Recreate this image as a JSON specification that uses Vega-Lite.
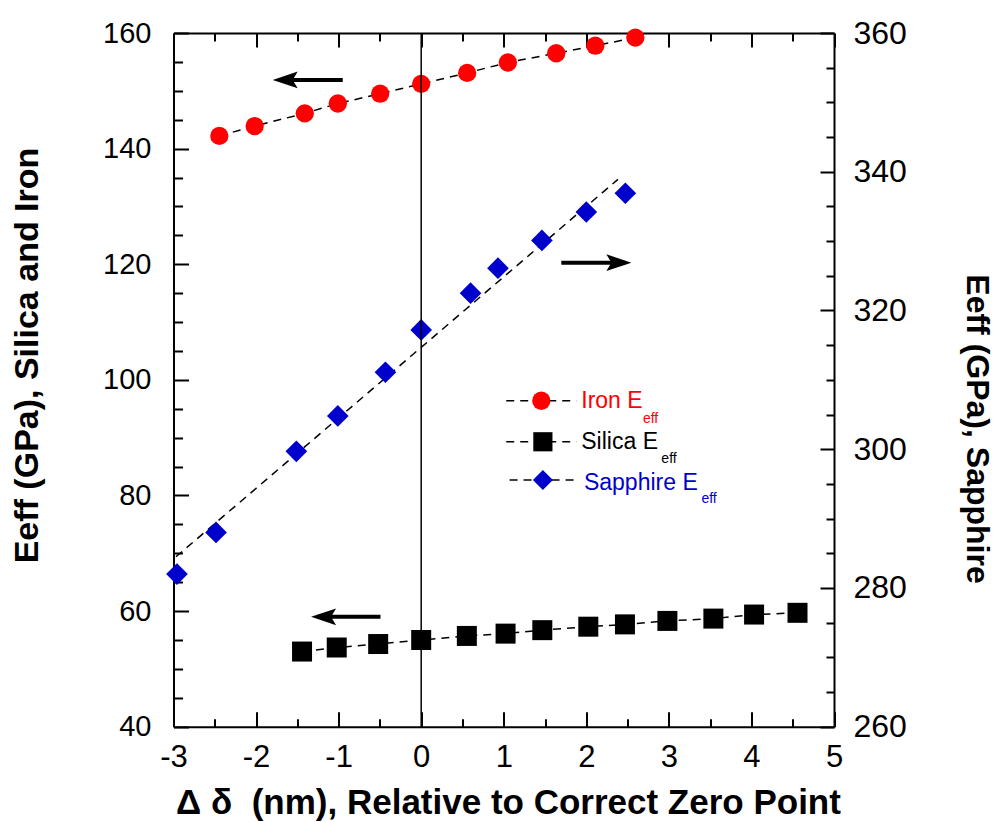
{
  "$schema": "https://vega.github.io/schema/vega-lite/v6.json",
  "width": 660.5,
  "height": 693.7,
  "autosize": {"type": "none"},
  "padding": {"left": 173.5, "top": 33, "right": 168, "bottom": 95.3},
  "background": "white",
  "config": {"view": {"stroke": null}, "font": "Liberation Sans"},
  "datasets": {
    "iron": [
      {"x": -2.445, "y": 142.2}, {"x": -2.017, "y": 143.9}, {"x": -1.41, "y": 146.1},
      {"x": -1.01, "y": 147.8}, {"x": -0.497, "y": 149.5}, {"x": 0, "y": 151.2},
      {"x": 0.557, "y": 153.1}, {"x": 1.05, "y": 154.9}, {"x": 1.636, "y": 156.5},
      {"x": 2.109, "y": 157.8}, {"x": 2.594, "y": 159.2}
    ],
    "silica": [
      {"x": -1.443, "y": 53.0}, {"x": -1.023, "y": 53.7}, {"x": -0.521, "y": 54.3},
      {"x": 0, "y": 55.0}, {"x": 0.553, "y": 55.7}, {"x": 1.022, "y": 56.1},
      {"x": 1.467, "y": 56.7}, {"x": 2.024, "y": 57.3}, {"x": 2.468, "y": 57.7},
      {"x": 2.982, "y": 58.3}, {"x": 3.539, "y": 58.7}, {"x": 4.032, "y": 59.4},
      {"x": 4.558, "y": 59.7}
    ],
    "sapphire": [
      {"x": -2.958, "y": 282.0}, {"x": -2.485, "y": 288.0}, {"x": -1.512, "y": 299.7},
      {"x": -1.01, "y": 304.8}, {"x": -0.433, "y": 311.1}, {"x": 0, "y": 317.2},
      {"x": 0.598, "y": 322.5}, {"x": 0.93, "y": 326.1}, {"x": 1.462, "y": 330.1},
      {"x": 2.0, "y": 334.2}, {"x": 2.473, "y": 336.9}
    ],
    "sapphireFit": [
      {"x": -2.97, "y": 284.5}, {"x": 2.383, "y": 338.9}
    ],
    "zeroLine": [{"x": 0, "y": 40, "y2": 160}],
    "legendDash": [
      {"series": "Iron", "x": 1.03, "x2": 1.88, "y": 96.38},
      {"series": "Silica", "x": 1.03, "x2": 1.88, "y": 89.29},
      {"series": "Sapphire", "x": 1.07, "x2": 1.895, "y": 82.66}
    ],
    "legendSymbol": [
      {"series": "Iron", "x": 1.455, "y": 96.38},
      {"series": "Silica", "x": 1.474, "y": 89.29},
      {"series": "Sapphire", "x": 1.474, "y": 82.66}
    ],
    "legendText": [
      {"series": "Iron", "label": "Iron E", "x": 1.939, "y": 95.07},
      {"series": "Silica", "label": "Silica E", "x": 1.939, "y": 87.97},
      {"series": "Sapphire", "label": "Sapphire E", "x": 1.971, "y": 80.93}
    ],
    "legendSub": [
      {"series": "Iron", "label": "eff", "x": 2.686, "y": 92.58},
      {"series": "Silica", "label": "eff", "x": 2.909, "y": 85.66},
      {"series": "Sapphire", "label": "eff", "x": 3.394, "y": 78.7}
    ],
    "arrows": [
      {"dir": "left", "x": -1.723, "x2": -0.95, "y": 151.87},
      {"dir": "left", "x": -1.258, "x2": -0.493, "y": 59.0},
      {"dir": "right", "x": 2.47, "x2": 1.697, "y": 120.26}
    ]
  },
  "layer": [
    {
      "encoding": {
        "x": {
          "field": "x", "type": "quantitative",
          "scale": {"domain": [-3, 5], "nice": false, "zero": false},
          "axis": {
            "orient": "bottom",
            "values": [-3, -2, -1, 0, 1, 2, 3, 4, 5],
            "labelExpr": "'' + datum.value",
            "ticks": true, "tickSize": -15,
            "tickWidth": 2, "tickColor": "black",
            "domainWidth": 2, "domainColor": "black",
            "labelPadding": 31, "labelFontSize": 31, "labelColor": "black",
            "labelFont": "Liberation Sans", "labelFlush": false, "labelOverlap": false,
            "grid": false,
            "title": "Δ δ\u00a0\u00a0(nm), Relative to Correct Zero Point",
            "titleFont": "Liberation Sans", "titleFontWeight": "bold", "titleFontSize": 35,
            "titleColor": "black", "titleX": 334.5, "titleY": 86.6,
            "titleAlign": "center", "titleBaseline": "alphabetic"
          }
        },
        "y": {
          "field": "y", "type": "quantitative",
          "scale": {"domain": [40, 160], "nice": false, "zero": false},
          "axis": {
            "orient": "left",
            "values": [40, 60, 80, 100, 120, 140, 160],
            "labelExpr": "'' + datum.value",
            "ticks": true, "tickSize": -15,
            "tickWidth": 2, "tickColor": "black",
            "domainWidth": 2, "domainColor": "black",
            "labelPadding": 37.5, "labelFontSize": 29, "labelColor": "black",
            "labelFont": "Liberation Sans", "labelFlush": false, "labelOverlap": false,
            "grid": false,
            "title": "Eeff (GPa), Silica and Iron",
            "titleFont": "Liberation Sans", "titleFontWeight": "bold", "titleFontSize": 34,
            "titleColor": "black", "titleAngle": -90, "titleX": -136, "titleY": 322,
            "titleAlign": "center", "titleBaseline": "alphabetic"
          }
        }
      },
      "layer": [
        {
          "data": {"name": "iron"},
          "mark": {"type": "line", "color": "black", "strokeWidth": 1.5, "strokeDash": [8, 6]}
        },
        {
          "data": {"name": "iron"},
          "mark": {"type": "point", "shape": "circle", "filled": true, "color": "#FF0000", "size": 335, "opacity": 1, "strokeWidth": 0}
        },
        {
          "data": {"name": "silica"},
          "mark": {"type": "line", "color": "black", "strokeWidth": 1.5, "strokeDash": [8, 6]}
        },
        {
          "data": {"name": "silica"},
          "mark": {"type": "point", "shape": "square", "filled": true, "color": "black", "size": 400, "opacity": 1, "strokeWidth": 0}
        },
        {
          "data": {"name": "legendDash"},
          "mark": {"type": "rule", "color": "black", "strokeWidth": 1.5, "strokeDash": [8, 6]},
          "encoding": {"x2": {"field": "x2"}}
        },
        {
          "data": {"name": "legendSymbol"},
          "mark": {"type": "point", "filled": true, "opacity": 1, "strokeWidth": 0},
          "encoding": {
            "shape": {"field": "series", "type": "nominal", "scale": {"domain": ["Iron", "Silica", "Sapphire"], "range": ["circle", "square", "diamond"]}, "legend": null},
            "color": {"field": "series", "type": "nominal", "scale": {"domain": ["Iron", "Silica", "Sapphire"], "range": ["#FF0000", "#000000", "#0000CC"]}, "legend": null},
            "size": {"field": "series", "type": "nominal", "scale": {"domain": ["Iron", "Silica", "Sapphire"], "range": [335, 400, 470]}, "legend": null}
          }
        },
        {
          "data": {"name": "legendText"},
          "mark": {"type": "text", "align": "left", "baseline": "alphabetic", "fontSize": 23, "font": "Liberation Sans"},
          "encoding": {
            "text": {"field": "label"},
            "color": {"field": "series", "type": "nominal", "scale": {"domain": ["Iron", "Silica", "Sapphire"], "range": ["#FF0000", "#000000", "#0000CC"]}, "legend": null}
          }
        },
        {
          "data": {"name": "legendSub"},
          "mark": {"type": "text", "align": "left", "baseline": "alphabetic", "fontSize": 14, "font": "Liberation Sans"},
          "encoding": {
            "text": {"field": "label"},
            "color": {"field": "series", "type": "nominal", "scale": {"domain": ["Iron", "Silica", "Sapphire"], "range": ["#FF0000", "#000000", "#0000CC"]}, "legend": null}
          }
        },
        {
          "data": {"name": "arrows"},
          "mark": {"type": "rule", "color": "black", "strokeWidth": 4},
          "encoding": {"x2": {"field": "x2"}}
        },
        {
          "data": {"name": "arrows"},
          "transform": [{"filter": "datum.dir === 'left'"}],
          "mark": {"type": "point", "shape": "M-0.5,0L1.5,-0.67L1.1,0L1.5,0.67Z", "filled": true, "color": "black", "size": 625, "opacity": 1, "strokeWidth": 0}
        },
        {
          "data": {"name": "arrows"},
          "transform": [{"filter": "datum.dir === 'right'"}],
          "mark": {"type": "point", "shape": "M0.5,0L-1.5,-0.67L-1.1,0L-1.5,0.67Z", "filled": true, "color": "black", "size": 625, "opacity": 1, "strokeWidth": 0}
        }
      ]
    },
    {
      "encoding": {
        "x": {
          "field": "x", "type": "quantitative",
          "scale": {"domain": [-3, 5], "nice": false, "zero": false},
          "axis": {
            "orient": "top",
            "values": [-2.5, -1.5, -0.5, 0.5, 1.5, 2.5, 3.5, 4.5],
            "labels": false, "domain": false,
            "ticks": true, "tickSize": -8,
            "tickWidth": 2, "tickColor": "black",
            "grid": false, "title": null
          }
        },
        "y": {
          "field": "y", "type": "quantitative",
          "scale": {"domain": [260, 360], "nice": false, "zero": false},
          "axis": {
            "orient": "right",
            "values": [265, 270, 275, 285, 290, 295, 305, 310, 315, 325, 330, 335, 345, 350, 355],
            "labels": false, "domain": false,
            "ticks": true, "tickSize": -8,
            "tickWidth": 2, "tickColor": "black",
            "grid": false, "title": null
          }
        }
      },
      "layer": [
        {
          "data": {"name": "sapphireFit"},
          "mark": {"type": "line", "color": "black", "strokeWidth": 1.5, "strokeDash": [8, 6]}
        }
      ]
    },
    {
      "encoding": {
        "x": {
          "field": "x", "type": "quantitative",
          "scale": {"domain": [-3, 5], "nice": false, "zero": false},
          "axis": {
            "orient": "top",
            "values": [-3, -2, -1, 0, 1, 2, 3, 4, 5],
            "labels": false,
            "ticks": true, "tickSize": -14,
            "tickWidth": 2, "tickColor": "black",
            "domainWidth": 2, "domainColor": "black",
            "grid": false, "title": null
          }
        },
        "y": {
          "field": "y", "type": "quantitative",
          "scale": {"domain": [260, 360], "nice": false, "zero": false},
          "axis": {
            "orient": "right",
            "values": [260, 280, 300, 320, 340, 360],
            "labelExpr": "'' + datum.value",
            "ticks": true, "tickSize": -14,
            "tickWidth": 2, "tickColor": "black",
            "domainWidth": 2, "domainColor": "black",
            "labelPadding": 33, "labelFontSize": 32, "labelColor": "black",
            "labelFont": "Liberation Sans", "labelFlush": false, "labelOverlap": false,
            "grid": false,
            "title": "Eeff (GPa), Sapphire",
            "titleFont": "Liberation Sans", "titleFontWeight": "bold", "titleFontSize": 32,
            "titleColor": "black", "titleAngle": 90, "titleX": 132, "titleY": 395.5,
            "titleAlign": "center", "titleBaseline": "alphabetic"
          }
        }
      },
      "layer": [
        {
          "data": {"name": "sapphire"},
          "mark": {"type": "point", "shape": "diamond", "filled": true, "color": "#0000CC", "size": 470, "opacity": 1, "strokeWidth": 0}
        }
      ]
    },
    {
      "encoding": {
        "x": {
          "field": "x", "type": "quantitative",
          "scale": {"domain": [-3, 5], "nice": false, "zero": false},
          "axis": {
            "orient": "bottom",
            "values": [-2.5, -1.5, -0.5, 0.5, 1.5, 2.5, 3.5, 4.5],
            "labels": false, "domain": false,
            "ticks": true, "tickSize": -8,
            "tickWidth": 2, "tickColor": "black",
            "grid": false, "title": null
          }
        },
        "y": {
          "field": "y", "type": "quantitative",
          "scale": {"domain": [40, 160], "nice": false, "zero": false},
          "axis": {
            "orient": "left",
            "values": [45, 50, 55, 65, 70, 75, 85, 90, 95, 105, 110, 115, 125, 130, 135, 145, 150, 155],
            "labels": false, "domain": false,
            "ticks": true, "tickSize": -9,
            "tickWidth": 2, "tickColor": "black",
            "grid": false, "title": null
          }
        }
      },
      "layer": [
        {
          "data": {"name": "zeroLine"},
          "mark": {"type": "rule", "color": "black", "strokeWidth": 1.5},
          "encoding": {"y2": {"field": "y2"}}
        }
      ]
    }
  ],
  "resolve": {
    "scale": {"y": "independent"},
    "axis": {"x": "independent", "y": "independent"}
  }
}
